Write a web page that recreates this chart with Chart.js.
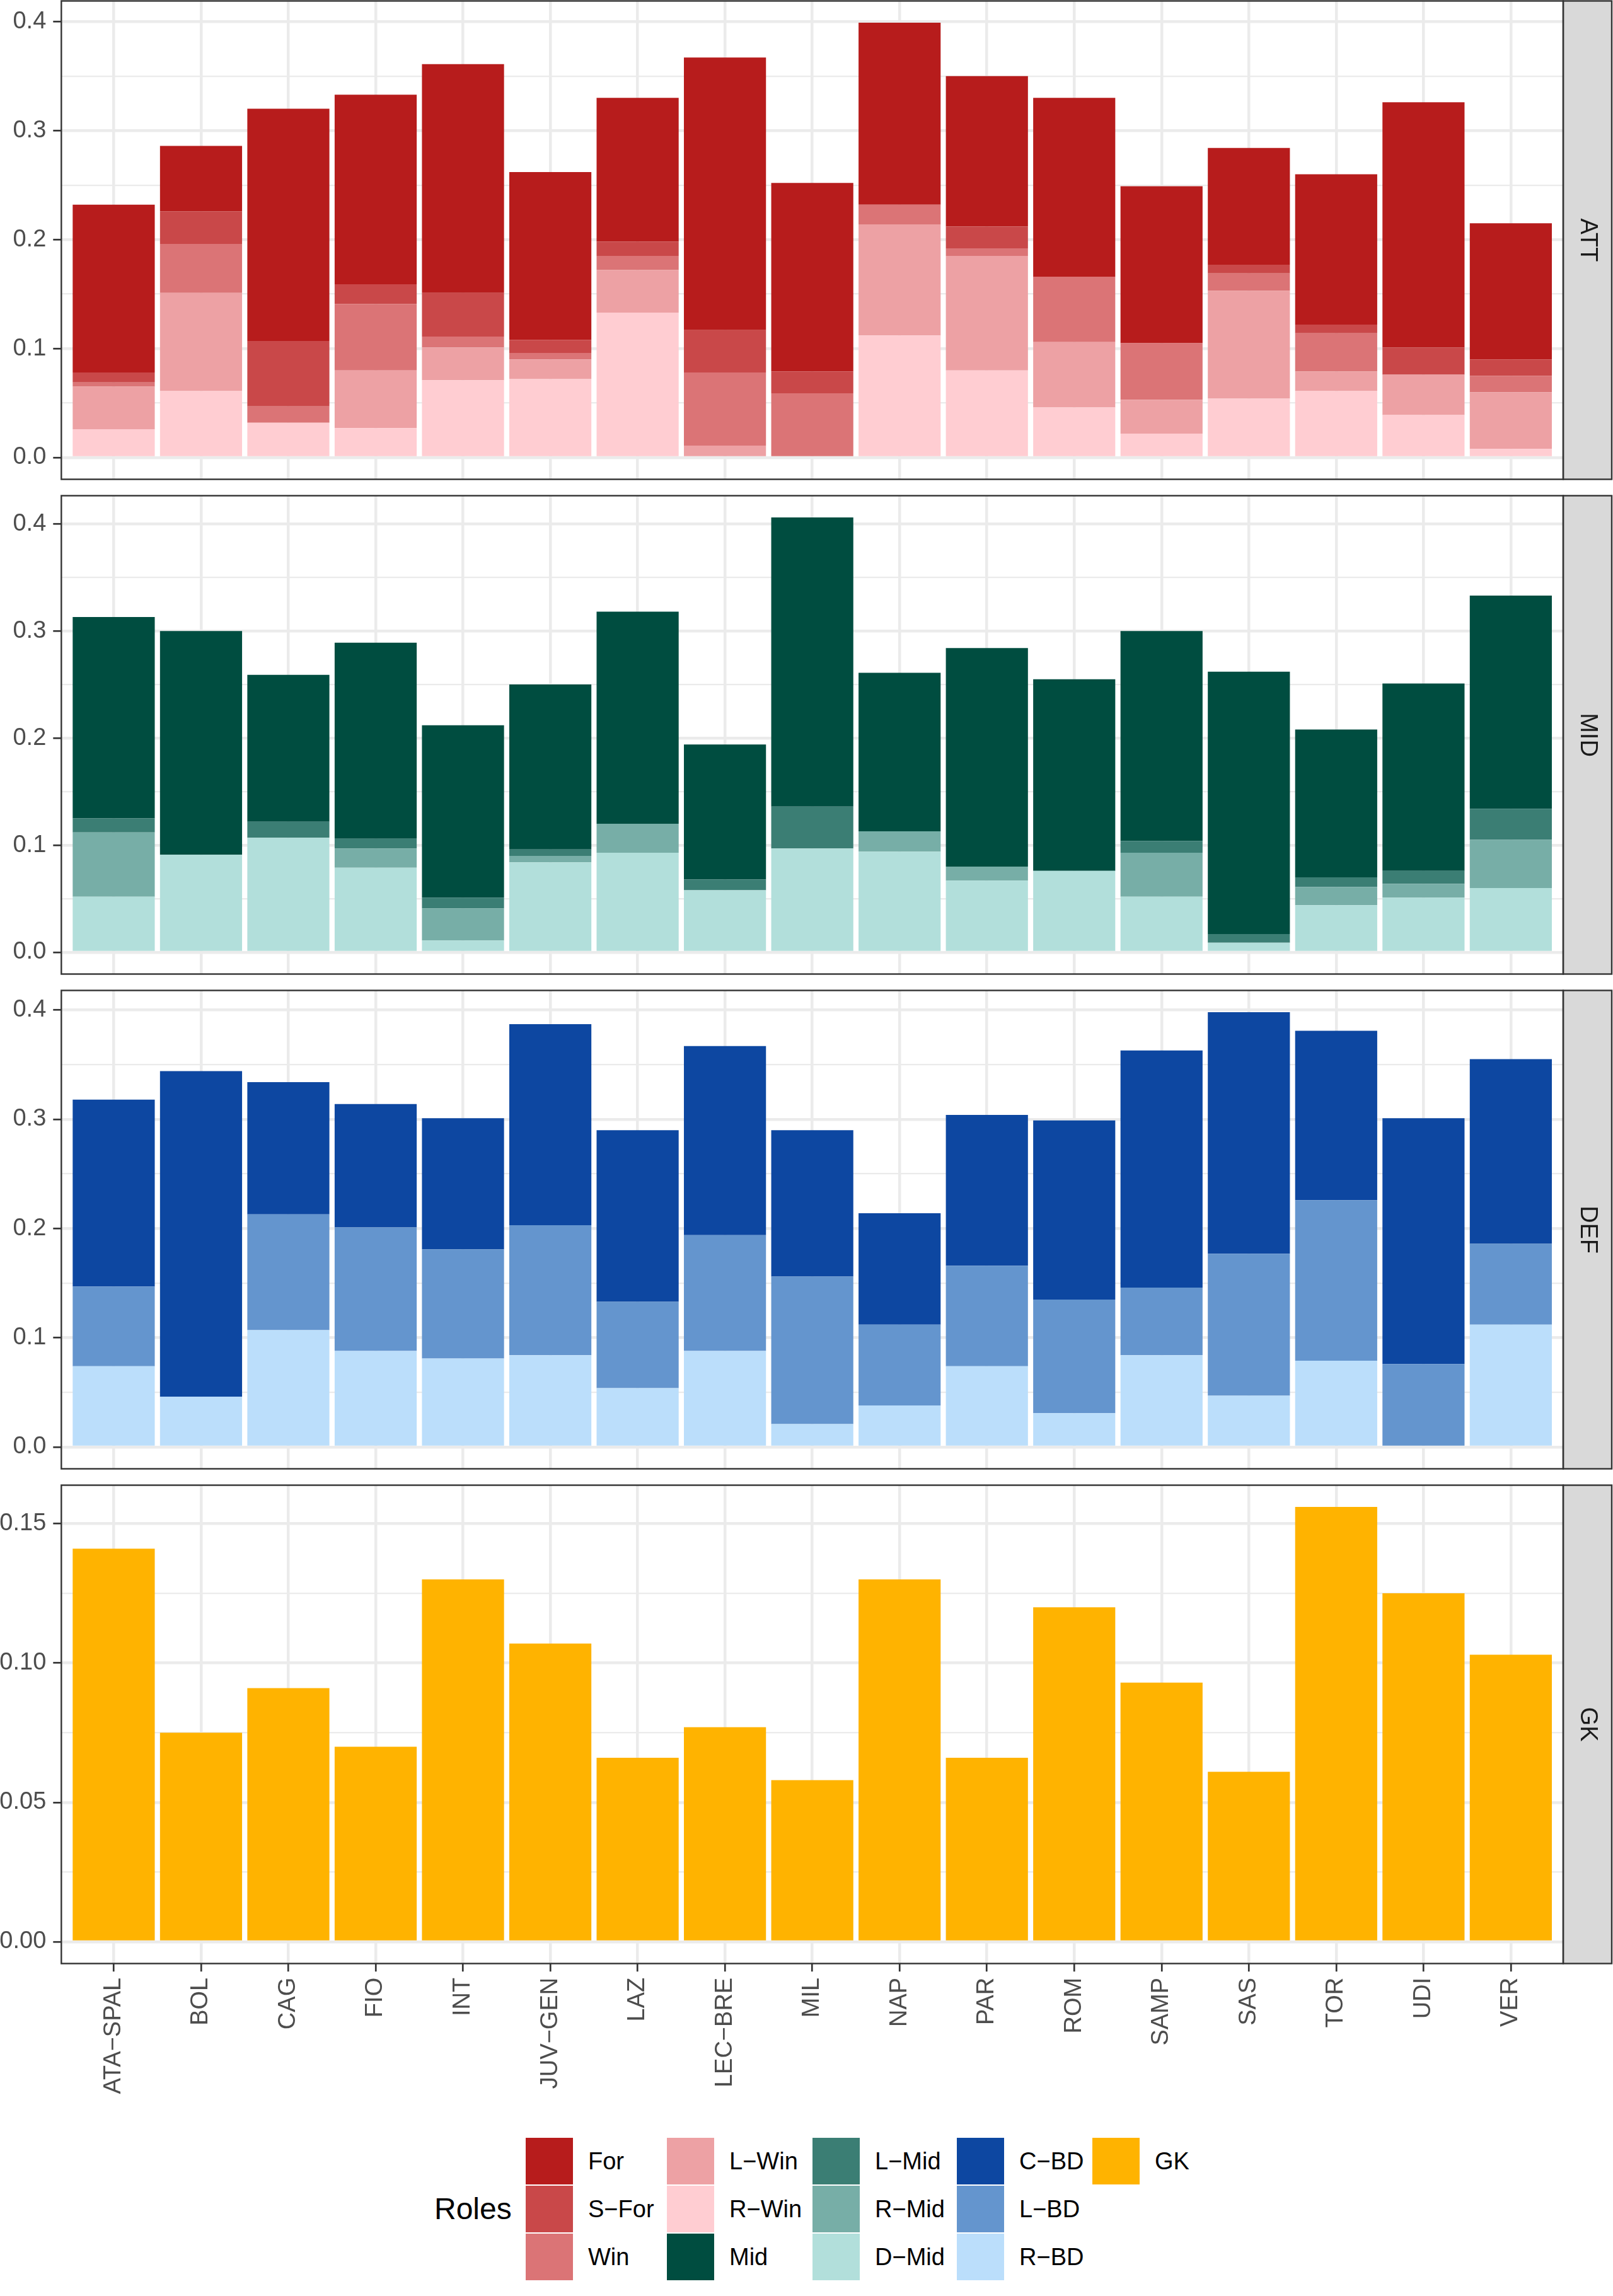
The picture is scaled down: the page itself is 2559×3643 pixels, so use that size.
<!DOCTYPE html>
<html>
<head>
<meta charset="utf-8">
<script src="https://cdn.jsdelivr.net/npm/chart.js@4.4.1/dist/chart.umd.min.js"></script>
<style>
html,body{margin:0;padding:0;background:#ffffff;}
body{width:2559px;height:3643px;position:relative;overflow:hidden;font-family:"Liberation Sans",Arial,sans-serif;}
.pbox{position:absolute;left:0;width:2559px;}
#legTitle{position:absolute;left:689px;top:3480px;height:50px;line-height:50px;font-size:48px;color:#000;}
#legGrid{position:absolute;left:834px;top:3391px;display:grid;grid-auto-flow:column;grid-template-rows:repeat(3,76px);grid-template-columns:224px 231px 229px 215px auto;}
.li{display:flex;align-items:center;height:76px;}
.lk{width:75px;height:74px;flex:none;}
.ll{margin-left:24px;font-size:38px;color:#000;white-space:nowrap;}
</style>
</head>
<body>
<div id="legTitle">Roles</div>
<div id="legGrid"></div>
<script>
// ---------- categories ----------
const teams = ["ATA\u2212SPAL","BOL","CAG","FIO","INT","JUV\u2212GEN","LAZ","LEC\u2212BRE","MIL","NAP","PAR","ROM","SAMP","SAS","TOR","UDI","VER"];

// ---------- ATT panel ----------
const attFor  = [0.154,0.060,0.213,0.174,0.210,0.154,0.132,0.250,0.173,0.167,0.138,0.164,0.144,0.107,0.138,0.225,0.125];
const attSFor = [0.009,0.030,0.060,0.018,0.040,0.012,0.013,0.039,0.020,0.000,0.020,0.000,0.000,0.008,0.008,0.025,0.015];
const attWin  = [0.004,0.045,0.015,0.061,0.010,0.006,0.013,0.067,0.059,0.018,0.007,0.060,0.052,0.016,0.035,0.000,0.015];
const attLWin = [0.039,0.090,0.000,0.053,0.030,0.018,0.039,0.011,0.000,0.102,0.105,0.060,0.031,0.099,0.018,0.037,0.052];
const attRWin = [0.026,0.061,0.032,0.027,0.071,0.072,0.133,0.000,0.000,0.112,0.080,0.046,0.022,0.054,0.061,0.039,0.008];

// ---------- MID panel ----------
const midMid  = [0.188,0.209,0.137,0.183,0.161,0.154,0.198,0.126,0.270,0.148,0.204,0.179,0.196,0.245,0.138,0.175,0.199];
const midLMid = [0.013,0.000,0.015,0.009,0.010,0.006,0.000,0.010,0.039,0.000,0.000,0.000,0.011,0.008,0.009,0.012,0.029];
const midRMid = [0.060,0.000,0.000,0.018,0.030,0.006,0.027,0.000,0.000,0.019,0.013,0.000,0.041,0.000,0.017,0.013,0.045];
const midDMid = [0.052,0.091,0.107,0.079,0.011,0.084,0.093,0.058,0.097,0.094,0.067,0.076,0.052,0.009,0.044,0.051,0.060];

// ---------- DEF panel ----------
const defCBD = [0.171,0.298,0.121,0.113,0.120,0.184,0.157,0.173,0.134,0.102,0.138,0.164,0.217,0.221,0.155,0.225,0.169];
const defLBD = [0.073,0.000,0.106,0.113,0.100,0.119,0.079,0.106,0.135,0.074,0.092,0.104,0.062,0.130,0.147,0.076,0.074];
const defRBD = [0.074,0.046,0.107,0.088,0.081,0.084,0.054,0.088,0.021,0.038,0.074,0.031,0.084,0.047,0.079,0.000,0.112];

// ---------- GK panel ----------
const gkGK = [0.141,0.075,0.091,0.070,0.130,0.107,0.066,0.077,0.058,0.130,0.066,0.120,0.093,0.061,0.156,0.125,0.103];

// ---------- tick labels ----------
const yMajorRole = [0.0,0.1,0.2,0.3,0.4];
const yMinorRole = [0.05,0.15,0.25,0.35];
const yMajorGK = [0.00,0.05,0.10,0.15];
const yMinorGK = [0.025,0.075,0.125];

// ---------- roles / colours ----------
const roleNames = ["For","S\u2212For","Win","L\u2212Win","R\u2212Win","Mid","L\u2212Mid","R\u2212Mid","D\u2212Mid","C\u2212BD","L\u2212BD","R\u2212BD","GK"];
const roleColors = ["#B71C1C","#C94849","#DB7476","#EDA1A4","#FFCDD2","#004D40","#3B7E74","#77AEA7","#B2DFDB","#0D47A1","#6495CE","#BBDEFB","#FFB300"];

const FONT = '"Liberation Sans", Arial, sans-serif';
Chart.defaults.font.family = FONT;

// legend (HTML)
const lg = document.getElementById('legGrid');
roleNames.forEach((n,i)=>{
  const d=document.createElement('div'); d.className='li';
  d.innerHTML='<div class="lk" style="background:'+roleColors[i]+'"></div><div class="ll">'+n+'</div>';
  lg.appendChild(d);
});

const panels = [
  {strip:"ATT", top:0, h:763, padB:2.5, major:yMajorRole, minor:yMinorRole, dec:1,
   series:[["R\u2212Win",attRWin],["L\u2212Win",attLWin],["Win",attWin],["S\u2212For",attSFor],["For",attFor]]},
  {strip:"MID", top:785, h:763, padB:2.5, major:yMajorRole, minor:yMinorRole, dec:1,
   series:[["D\u2212Mid",midDMid],["R\u2212Mid",midRMid],["L\u2212Mid",midLMid],["Mid",midMid]]},
  {strip:"DEF", top:1570, h:763, padB:2.5, major:yMajorRole, minor:yMinorRole, dec:1,
   series:[["R\u2212BD",defRBD],["L\u2212BD",defLBD],["C\u2212BD",defCBD]]},
  {strip:"GK", top:2355, h:1021, padB:0.5, major:yMajorGK, minor:yMinorGK, dec:2, xlab:true,
   series:[["GK",gkGK]]}
];

const deco = {
  id:'deco',
  afterDraw(chart, args, o){
    const ctx = chart.ctx, a = chart.chartArea;
    ctx.save();
    const sw = 77;
    ctx.fillStyle = '#D9D9D9';
    ctx.fillRect(a.right, a.top, sw, a.bottom - a.top);
    ctx.lineWidth = 2.4; ctx.strokeStyle = '#333333';
    ctx.strokeRect(a.right, a.top, sw, a.bottom - a.top);
    ctx.strokeRect(a.left, a.top, a.right - a.left, a.bottom - a.top);
    ctx.translate(a.right + sw/2, (a.top + a.bottom)/2);
    ctx.rotate(Math.PI/2);
    ctx.fillStyle = '#1A1A1A';
    ctx.font = '38px ' + FONT;
    ctx.textAlign = 'center'; ctx.textBaseline = 'middle';
    ctx.fillText(o.label, 0, 0);
    ctx.restore();
  }
};

panels.forEach(p=>{
  const box = document.createElement('div');
  box.className='pbox'; box.style.top=p.top+'px'; box.style.height=p.h+'px';
  const cv = document.createElement('canvas');
  cv.width=2559; cv.height=p.h; cv.style.width='2559px'; cv.style.height=p.h+'px';
  box.appendChild(cv); document.body.appendChild(box);

  const totals = teams.map((t,i)=>p.series.reduce((s,ser)=>s+ser[1][i],0));
  const M = Math.max(...totals);
  const allTicks = p.major.map(v=>({value:v,isMajor:true})).concat(p.minor.map(v=>({value:v,isMajor:false}))).sort((a,b)=>a.value-b.value);

  const datasets = p.series.map(([name,vals])=>({
    label:name,
    data: vals.map((v,i)=>({x:i+1,y:v})),
    backgroundColor: roleColors[roleNames.indexOf(name)],
    borderWidth:0,
    barPercentage:0.94,
    categoryPercentage:1.0
  }));

  new Chart(cv, {
    type:'bar',
    data:{datasets},
    plugins:[deco],
    options:{
      responsive:false, animation:false, devicePixelRatio:1, events:[],
      layout:{padding:{top:1.5,left:0,right:79,bottom:p.padB}},
      plugins:{legend:{display:false},tooltip:{enabled:false},deco:{label:p.strip}},
      scales:{
        x:{
          type:'linear', stacked:true, min:0.4, max:17.6, offset:false,
          afterBuildTicks:s=>{ s.ticks = teams.map((t,i)=>({value:i+1})); },
          afterFit:s=>{ s.height = p.xlab ? 260 : 0; s.paddingLeft=0; s.paddingRight=0; s.paddingTop=0; s.paddingBottom=0; },
          border:{display:false},
          grid:{offset:false, color:'#EBEBEB', lineWidth:4.5, drawTicks:!!p.xlab, tickLength:12.7, tickColor:'#333333', tickWidth:2.7},
          ticks:{display:!!p.xlab, autoSkip:false, minRotation:90, maxRotation:90, padding:9.6, color:'#4D4D4D',
                 font:{family:FONT,size:38}, callback:v=>teams[Math.round(v)-1]}
        },
        y:{
          stacked:true, min:-0.05*M, max:1.05*M,
          afterBuildTicks:s=>{ s.ticks = allTicks.map(t=>({value:t.value,isMajor:t.isMajor})); },
          afterFit:s=>{ s.width = 97.3; s.paddingTop=0; s.paddingBottom=0; s.paddingLeft=0; s.paddingRight=0; },
          border:{display:false},
          grid:{offset:false, color:'#EBEBEB',
                lineWidth:c=>(c.tick && c.tick.isMajor)?4.5:2.3,
                drawTicks:true, tickLength:13,
                tickColor:c=>(c.tick && c.tick.isMajor)?'#333333':'rgba(0,0,0,0)',
                tickWidth:2.7},
          ticks:{autoSkip:false, padding:11, color:'#4D4D4D', font:{family:FONT,size:38},
                 callback:function(v,i,ts){ return (ts[i] && ts[i].isMajor) ? Number(v).toFixed(p.dec) : ''; }}
        }
      }
    }
  });
});
</script>
</body>
</html>
